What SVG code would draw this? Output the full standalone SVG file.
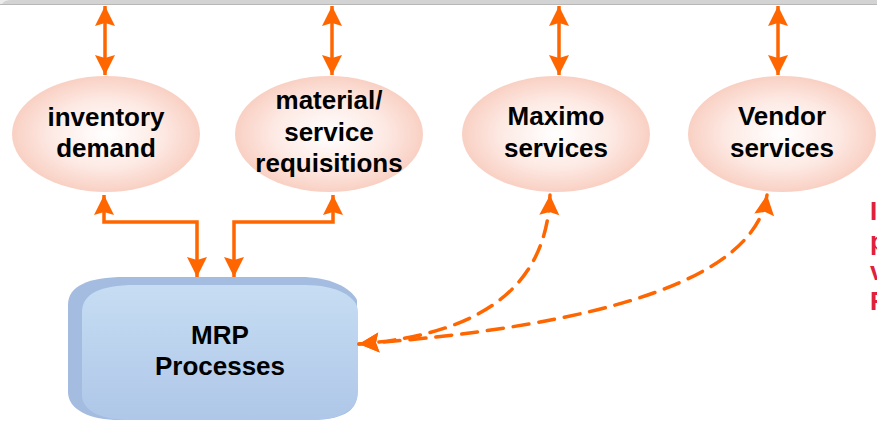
<svg xmlns="http://www.w3.org/2000/svg" width="877" height="422" viewBox="0 0 877 422">
<style>
.lbl{font-family:"Liberation Sans",Arial,sans-serif;font-weight:bold;font-size:26px;fill:#000;text-anchor:middle}
.red{font-family:"Liberation Sans",Arial,sans-serif;font-weight:bold;font-size:26px;fill:#e0203c}
.ell{fill:url(#pink)}
.con{fill:none;stroke:#ff6600;stroke-width:3.5;marker-start:url(#ah);marker-end:url(#ah)}
.dash{stroke-dasharray:16 10;stroke-linecap:round}
</style>
<defs>
<radialGradient id="pink" cx="0.5" cy="0.5" r="0.5">
<stop offset="0" stop-color="#ffffff"/>
<stop offset="0.6" stop-color="#fde9e3"/>
<stop offset="1" stop-color="#f9d0c3"/>
</radialGradient>
<linearGradient id="blue" x1="0" y1="0" x2="0" y2="1">
<stop offset="0" stop-color="#c6ddf3"/>
<stop offset="1" stop-color="#afc7e8"/>
</linearGradient>
<marker id="ah" viewBox="-21 -11 22 22" refX="0" refY="0" markerWidth="22" markerHeight="22" markerUnits="userSpaceOnUse" orient="auto-start-reverse">
<path d="M0,0 L-20,-10 L-17,0 L-20,10 Z" fill="#ff6600"/>
</marker>
</defs>
<rect x="0" y="0" width="877" height="4.5" fill="#d3d3d3"/>
<line x1="0" y1="4.5" x2="877" y2="4.5" stroke="#b8b8b8" stroke-width="1"/>
<path d="M0,0 L12,0 Q4,0 2,4 L0,4 Z" fill="#ececec"/>

<g id="node-inventory">
<ellipse class="ell" cx="106" cy="134" rx="94" ry="58"/>
<text class="lbl" x="106" y="126">inventory</text>
<text class="lbl" x="106" y="157">demand</text>
</g>
<g id="node-material">
<ellipse class="ell" cx="329" cy="134" rx="94" ry="58"/>
<text class="lbl" x="329" y="109">material/</text>
<text class="lbl" x="329" y="141">service</text>
<text class="lbl" x="329" y="172">requisitions</text>
</g>
<g id="node-maximo">
<ellipse class="ell" cx="556" cy="134" rx="94" ry="58"/>
<text class="lbl" x="556" y="125">Maximo</text>
<text class="lbl" x="556" y="157">services</text>
</g>
<g id="node-vendor">
<ellipse class="ell" cx="782" cy="134" rx="94" ry="58"/>
<text class="lbl" x="782" y="125">Vendor</text>
<text class="lbl" x="782" y="157">services</text>
</g>
<g id="node-mrp">
<path d="M68,305 C68,286 88,277 125,277 L300,277 C330,277 350,287 357,300 L357,395 C357,412 340,420 310,420 L120,420 C90,420 68,410 68,392 Z" fill="#a3bce0"/>
<path d="M82,312 C82,294 100,285 135,285 L305,285 C335,285 358,296 358,312 L358,392 C358,410 340,420 310,420 L130,420 C100,420 82,410 82,395 Z" fill="url(#blue)"/>
<text class="lbl" x="220" y="344">MRP</text>
<text class="lbl" x="220" y="375">Processes</text>
</g>
<g id="connectors">
<path class="con" d="M105,6 L105,75"/>
<path class="con" d="M332,6 L332,75"/>
<path class="con" d="M559,6 L559,75"/>
<path class="con" d="M778,6 L778,75"/>
<path class="con" d="M104,195 L104,222 L197,222 L197,277"/>
<path class="con" d="M333,195 L333,222 L234,222 L234,277"/>
<path class="con dash" d="M550,195 C547,282 488,334 359,344"/>
<path class="con dash" d="M767,195 C755,280 600,326 359,344"/>
</g>
<g id="side-text">
<text class="red" x="870" y="220">I</text>
<text class="red" x="870" y="250">p</text>
<text class="red" x="870" y="280">v</text>
<text class="red" x="870" y="310">R</text>
</g>
</svg>
